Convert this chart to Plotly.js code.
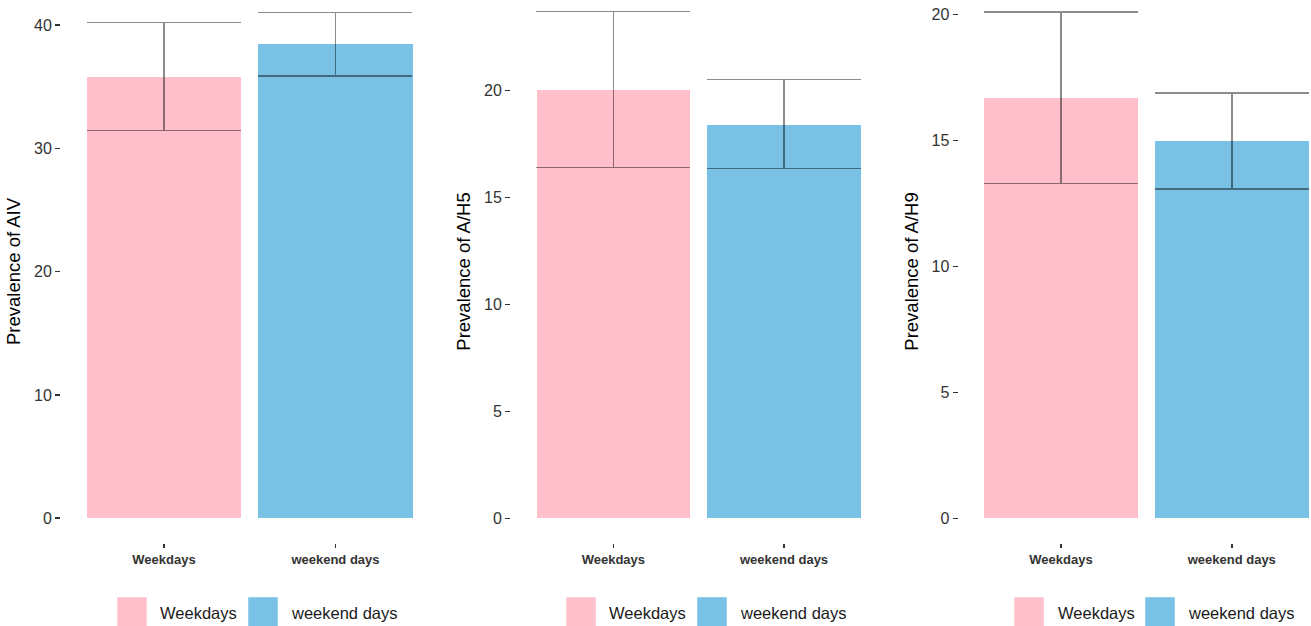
<!DOCTYPE html>
<html>
<head>
<meta charset="utf-8">
<script src="https://cdn.plot.ly/plotly-3.0.1.min.js"></script>
<style>
  html, body { margin: 0; padding: 0; background: #ffffff; }
  #chart { width: 1311px; height: 626px; }
</style>
</head>
<body>
<div id="chart"></div>
<script>
// ---- data ----
const categories = ["Weekdays", "weekend days"];

const aivMean = [35.76, 38.43];
const aivLow  = [31.44, 35.85];
const aivHigh = [40.19, 41.03];

const h5Mean = [20.05, 18.41];
const h5Low  = [16.40, 16.35];
const h5High = [23.70, 20.53];

const h9Mean = [16.68, 14.97];
const h9Low  = [13.29, 13.06];
const h9High = [20.09, 16.88];

const yTitles = ["Prevalence of AIV", "Prevalence of A/H5", "Prevalence of A/H9"];
const legendLabels = ["Weekdays", "weekend days"];

// ---- styles ----
const W = 1311, H = 626;
const PINK = "#FFC0CB";
const BLUE = "#79C1E5";
const barColors = [PINK, BLUE];
const ERR = "rgba(0,0,0,0.45)";
const FONT = "Liberation Sans, Arial, sans-serif";

function makeTrace(mean, low, high, idx) {
  const ax = idx === 1 ? "" : String(idx);
  return {
    type: "bar",
    x: categories,
    y: mean,
    width: 0.9,
    xaxis: "x" + ax,
    yaxis: "y" + ax,
    marker: { color: barColors, line: { width: 0 } },
    showlegend: false,
    hoverinfo: "x+y",
    error_y: {
      type: "data",
      symmetric: false,
      array: high.map((h, i) => h - mean[i]),
      arrayminus: low.map((l, i) => mean[i] - l),
      color: ERR,
      thickness: 1.5,
      width: 77
    }
  };
}

const data = [
  makeTrace(aivMean, aivLow, aivHigh, 1),
  makeTrace(h5Mean, h5Low, h5High, 2),
  makeTrace(h9Mean, h9Low, h9High, 3)
];

const yBottom = (H - 543) / H;

function xAxis(domain, range) {
  return {
    domain: domain,
    range: range,
    type: "category",
    showgrid: false, zeroline: false, showline: false,
    ticks: "outside", ticklen: 4, tickwidth: 1.5, tickcolor: "#333333",
    tickfont: { family: FONT, size: 13, color: "#333333", weight: "bold" },
    fixedrange: true
  };
}
function yAxis(range, dtick, title, anchor) {
  return {
    domain: [yBottom, 1],
    range: range,
    dtick: dtick,
    anchor: anchor,
    showgrid: false, zeroline: false, showline: false,
    ticks: "outside", ticklen: 5, tickwidth: 1.5, tickcolor: "#333333",
    tickfont: { family: FONT, size: 16, color: "#333333" },
    title: { text: title, font: { family: FONT, size: 18.5, color: "#000000" }, standoff: 8 },
    fixedrange: true
  };
}

const shapes = [];
const annotations = [];
// legend positions (pixels): swatch left edges and text left edges per panel
const legendPos = [
  { sw: [117, 248], tx: [158, 289] },
  { sw: [566, 697], tx: [607, 738] },
  { sw: [1014, 1145], tx: [1056, 1186] }
];
legendPos.forEach(p => {
  for (let i = 0; i < 2; i++) {
    shapes.push({
      type: "rect", xref: "paper", yref: "paper",
      x0: p.sw[i] / W, x1: (p.sw[i] + 30) / W,
      y0: -0.01, y1: 1 - 597 / H,
      fillcolor: barColors[i], line: { width: 0.8, color: "rgba(255,255,255,0.6)" }
    });
    annotations.push({
      xref: "paper", yref: "paper",
      x: p.tx[i] / W, y: 1 - 613 / H,
      xanchor: "left", yanchor: "middle",
      text: legendLabels[i], showarrow: false,
      font: { family: FONT, size: 16.5, color: "#1a1a1a" }
    });
  }
});

const layout = {
  width: W, height: H,
  margin: { l: 0, r: 0, t: 0, b: 0 },
  paper_bgcolor: "#ffffff",
  plot_bgcolor: "#ffffff",
  showlegend: false,
  bargap: 0,
  xaxis: xAxis([61 / W, 438.4 / W], [-0.6, 1.6]),
  yaxis: yAxis([-2.01, 42.03], 10, yTitles[0], "x"),
  xaxis2: xAxis([511 / W, 886.4 / W], [-0.6, 1.6]),
  yaxis2: yAxis([-1.155, 24.24], 5, yTitles[1], "x2"),
  xaxis3: xAxis([958.5 / W, 1], [-0.6, 1.464]),
  yaxis3: yAxis([-0.98, 20.57], 5, yTitles[2], "x3"),
  shapes: shapes,
  annotations: annotations
};

Plotly.newPlot("chart", data, layout, { displayModeBar: false, staticPlot: true });
</script>
</body>
</html>
